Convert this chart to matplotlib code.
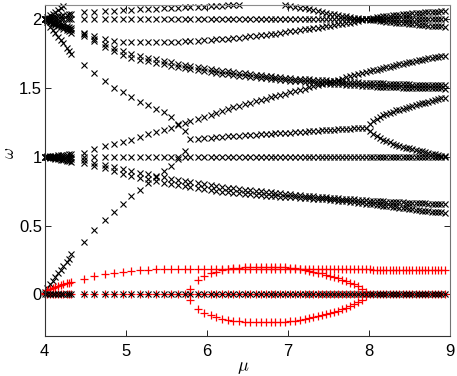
import numpy as np
import matplotlib
matplotlib.use('Agg')
import matplotlib.pyplot as plt

plt.rcParams['font.family'] = ['Liberation Sans', 'DejaVu Sans']
plt.rcParams['mathtext.fontset'] = 'cm'

N = None

# coarse mu grid (4.48 .. 8.94)
mu = [4.48, 4.61, 4.74, 4.86, 4.97, 5.07, 5.18, 5.28, 5.38, 5.47,
      5.56, 5.65, 5.73, 5.80, 5.89, 5.97, 6.05, 6.12, 6.19, 6.26,
      6.33, 6.40, 6.47, 6.54, 6.61, 6.67, 6.73, 6.79, 6.85, 6.91,
      6.97, 7.03, 7.09, 7.15, 7.21, 7.27, 7.32, 7.37, 7.42, 7.47,
      7.52, 7.57, 7.62, 7.67, 7.72, 7.77, 7.82, 7.87, 7.92, 7.97,
      8.02, 8.06, 8.10, 8.14, 8.18, 8.22, 8.26, 8.30, 8.34, 8.38,
      8.42, 8.46, 8.50, 8.54, 8.58, 8.62, 8.66, 8.70, 8.74, 8.78,
      8.82, 8.86, 8.90, 8.94]

# dense mu grid near mu = 4
mu_d = [4.00, 4.03, 4.07, 4.10, 4.13, 4.17, 4.20, 4.23, 4.27, 4.30, 4.33]

# ---- black branches (omega), coarse grid ----
w_two = [2.0, 2.0, 2.0, 2.0, 2.0, 2.0, 2.0, 2.0, 2.0, 2.0,
         2.0, 2.0, 2.0, 2.0, 2.0, 2.0, 2.0, 2.0, 2.0, 2.0,
         2.0, 2.0, 2.0, 2.0, 2.0, 2.0, 2.0, 2.0, 2.0, 2.0,
         2.0, 2.0, 2.0, 2.0, 2.0, 2.0, 2.0, 2.0, 2.0, 2.0,
         2.0, 2.0, 2.0, 2.0, 2.0, 2.0, 2.0, 2.0, 2.0, 2.0,
         2.0, 2.0, 2.0, 2.0, 2.0, 2.0, 2.0, 2.0, 2.0, 2.0,
         2.0, 2.0, 2.0, 2.0, 2.0, 2.0, 2.0, 2.0, 2.0, 2.0,
         2.0, 2.0, 2.0, 2.0]
w_top_up = [2.050, 2.054, 2.058, 2.062, 2.065, 2.068, 2.071, 2.073, 2.076, 2.078,
            2.081, 2.083, 2.085, 2.087, 2.089, 2.091, 2.094, 2.096, 2.098, 2.100,
            2.102, 2.104] + [N] * 52
w_top_dn = [N] * 30 + [
    2.105, 2.098, 2.091, 2.084, 2.077, 2.070, 2.064, 2.058, 2.052, 2.046,
    2.040, 2.035, 2.030, 2.025, 2.020, 2.015, 2.010, 2.006, 2.002, 1.998,
    1.995, 1.992, 1.990, 1.987, 1.985, 1.982, 1.980, 1.977, 1.975, 1.972,
    1.970, 1.968, 1.965, 1.963, 1.961, 1.959, 1.957, 1.955, 1.953, 1.951,
    1.950, 1.948, 1.947, 1.946]
w_rise2 = [1.900, 1.875, 1.855, 1.840, 1.832, 1.830, 1.830, 1.830, 1.830, 1.832,
           1.834, 1.836, 1.838, 1.840, 1.843, 1.846, 1.849, 1.852, 1.855, 1.858,
           1.862, 1.866, 1.870, 1.874, 1.878, 1.882, 1.886, 1.890, 1.895, 1.900,
           1.905, 1.910, 1.915, 1.920, 1.925, 1.930, 1.934, 1.938, 1.943, 1.947,
           1.952, 1.956, 1.961, 1.965, 1.970, 1.975, 1.980, 1.986, 1.992, 1.998,
           2.004, 2.008, 2.012, 2.016, 2.019, 2.022, 2.025, 2.028, 2.031, 2.033,
           2.036, 2.038, 2.040, 2.042, 2.044, 2.046, 2.047, 2.049, 2.050, 2.052,
           2.053, 2.054, 2.055, 2.056]
w_band_hi = [1.890, 1.855, 1.820, 1.790, 1.765, 1.748, 1.733, 1.720, 1.708, 1.697,
             1.687, 1.677, 1.668, 1.660, 1.652, 1.645, 1.638, 1.632, 1.626, 1.620,
             1.615, 1.610, 1.605, 1.600, 1.595, 1.591, 1.587, 1.583, 1.580, 1.577,
             1.574, 1.571, 1.568, 1.566, 1.564, 1.562, 1.560, 1.558, 1.556, 1.554,
             1.552, 1.550, 1.548, 1.546, 1.545, 1.543, 1.541, 1.540, 1.538, 1.537,
             1.536, 1.535, 1.534, 1.533, 1.532, 1.531, 1.530, 1.529, 1.528, 1.527,
             1.526, 1.526, 1.525, 1.524, 1.524, 1.523, 1.523, 1.522, 1.522, 1.521,
             1.521, 1.520, 1.520, 1.520]
w_band_lo = [1.880, 1.840, 1.800, 1.765, 1.738, 1.720, 1.705, 1.692, 1.680, 1.670,
             1.660, 1.651, 1.643, 1.636, 1.628, 1.621, 1.615, 1.609, 1.604, 1.599,
             1.594, 1.589, 1.585, 1.581, 1.577, 1.573, 1.569, 1.566, 1.562, 1.559,
             1.556, 1.553, 1.550, 1.547, 1.545, 1.542, 1.540, 1.538, 1.535, 1.533,
             1.531, 1.529, 1.527, 1.525, 1.523, 1.521, 1.520, 1.518, 1.516, 1.515,
             1.513, 1.512, 1.510, 1.509, 1.508, 1.507, 1.506, 1.505, 1.504, 1.503,
             1.502, 1.501, 1.500, 1.500, 1.499, 1.499, 1.498, 1.498, 1.497, 1.497,
             1.496, 1.496, 1.496, 1.495]
w_fall = [1.665, 1.607, 1.550, 1.500, 1.467, 1.435, 1.400, 1.375, 1.350, 1.325,
          1.292, 1.240, 1.190, 1.127, 1.130, 1.133, 1.137, 1.140, 1.143, 1.147,
          1.150, 1.152, 1.155, 1.158, 1.160, 1.163, 1.165, 1.167, 1.170, 1.172,
          1.174, 1.176, 1.178, 1.180, 1.183, 1.185, 1.187, 1.189, 1.191, 1.193,
          1.195, 1.197, 1.199, 1.201, 1.203, 1.205, 1.207, 1.208, 1.210, 1.212,
          1.240, 1.260, 1.275, 1.288, 1.300, 1.310, 1.320, 1.328, 1.336, 1.343,
          1.350, 1.357, 1.363, 1.369, 1.375, 1.381, 1.387, 1.393, 1.399, 1.405,
          1.411, 1.417, 1.423, 1.430]
w_fall_lo = [N] * 50 + [
    1.185, 1.165, 1.150, 1.137, 1.125, 1.114, 1.104, 1.095, 1.087, 1.080,
    1.073, 1.066, 1.060, 1.054, 1.048, 1.043, 1.038, 1.033, 1.028, 1.023,
    1.018, 1.013, 1.008, 1.004]
w_rise1 = [1.025, 1.055, 1.078, 1.093, 1.105, 1.125, 1.145, 1.163, 1.180, 1.197,
           1.212, 1.232, 1.248, 1.260, 1.272, 1.286, 1.300, 1.315, 1.330, 1.345,
           1.358, 1.370, 1.381, 1.392, 1.402, 1.412, 1.422, 1.431, 1.440, 1.450,
           1.459, 1.468, 1.477, 1.486, 1.495, 1.504, 1.512, 1.520, 1.528, 1.536,
           1.544, 1.552, 1.560, 1.568, 1.576, 1.584, 1.592, 1.600, 1.607, 1.614,
           1.621, 1.627, 1.633, 1.638, 1.644, 1.650, 1.655, 1.660, 1.666, 1.671,
           1.676, 1.681, 1.686, 1.691, 1.696, 1.700, 1.705, 1.710, 1.714, 1.718,
           1.722, 1.726, 1.730, 1.734]
w_one = [1.0, 1.0, 1.0, 1.0, 1.0, 1.0, 1.0, 1.0, 1.0, 1.0,
         1.0, 1.0, 1.0, 1.0, 1.0, 1.0, 1.0, 1.0, 1.0, 1.0,
         1.0, 1.0, 1.0, 1.0, 1.0, 1.0, 1.0, 1.0, 1.0, 1.0,
         1.0, 1.0, 1.0, 1.0, 1.0, 1.0, 1.0, 1.0, 1.0, 1.0,
         1.0, 1.0, 1.0, 1.0, 1.0, 1.0, 1.0, 1.0, 1.0, 1.0,
         1.0, 1.0, 1.0, 1.0, 1.0, 1.0, 1.0, 1.0, 1.0, 1.0,
         1.0, 1.0, 1.0, 1.0, 1.0, 1.0, 1.0, 1.0, 1.0, 1.0,
         1.0, 1.0, 1.0, 1.0]
w_rise0 = [0.380, 0.465, 0.540, 0.600, 0.655, 0.715, 0.760, 0.810, 0.855, 0.895,
           0.935, 0.980, 1.040] + [N] * 61
w_low_hi = [0.975, 0.958, 0.942, 0.926, 0.910, 0.897, 0.884, 0.872, 0.861, 0.851,
            0.841, 0.832, 0.824, 0.817, 0.809, 0.801, 0.794, 0.787, 0.781, 0.776,
            0.771, 0.766, 0.761, 0.757, 0.753, 0.749, 0.745, 0.741, 0.737, 0.733,
            0.730, 0.727, 0.724, 0.721, 0.718, 0.715, 0.712, 0.710, 0.707, 0.705,
            0.703, 0.700, 0.698, 0.696, 0.694, 0.692, 0.690, 0.688, 0.686, 0.684,
            0.682, 0.680, 0.679, 0.677, 0.676, 0.674, 0.673, 0.672, 0.670, 0.669,
            0.668, 0.667, 0.666, 0.665, 0.664, 0.663, 0.662, 0.661, 0.660, 0.659,
            0.658, 0.657, 0.656, 0.655]
w_low_lo = [0.955, 0.935, 0.915, 0.895, 0.877, 0.862, 0.848, 0.835, 0.823, 0.812,
            0.802, 0.793, 0.785, 0.778, 0.771, 0.764, 0.758, 0.752, 0.747, 0.742,
            0.738, 0.734, 0.730, 0.727, 0.724, 0.721, 0.718, 0.716, 0.713, 0.711,
            0.708, 0.706, 0.704, 0.702, 0.700, 0.698, 0.696, 0.694, 0.692, 0.690,
            0.687, 0.684, 0.681, 0.678, 0.675, 0.672, 0.669, 0.666, 0.663, 0.660,
            0.657, 0.654, 0.651, 0.648, 0.645, 0.642, 0.639, 0.636, 0.633, 0.630,
            0.627, 0.624, 0.621, 0.618, 0.615, 0.612, 0.609, 0.606, 0.603, 0.600,
            0.598, 0.596, 0.595, 0.594]
w_zero = [0.0, 0.0, 0.0, 0.0, 0.0, 0.0, 0.0, 0.0, 0.0, 0.0,
          0.0, 0.0, 0.0, 0.0, 0.0, 0.0, 0.0, 0.0, 0.0, 0.0,
          0.0, 0.0, 0.0, 0.0, 0.0, 0.0, 0.0, 0.0, 0.0, 0.0,
          0.0, 0.0, 0.0, 0.0, 0.0, 0.0, 0.0, 0.0, 0.0, 0.0,
          0.0, 0.0, 0.0, 0.0, 0.0, 0.0, 0.0, 0.0, 0.0, 0.0,
          0.0, 0.0, 0.0, 0.0, 0.0, 0.0, 0.0, 0.0, 0.0, 0.0,
          0.0, 0.0, 0.0, 0.0, 0.0, 0.0, 0.0, 0.0, 0.0, 0.0,
          0.0, 0.0, 0.0, 0.0]

# ---- black branches, dense grid ----
d_steep = [2.000, 2.012, 2.028, 2.040, 2.052, 2.068, 2.080, 2.092, N, N, N]
d_two = [2.0, 2.0, 2.0, 2.0, 2.0, 2.0, 2.0, 2.0, 2.0, 2.0, 2.0]
d_top = [2.000, 2.004, 2.008, 2.012, 2.016, 2.020, 2.024, 2.028, 2.032, 2.036, 2.040]
d_r2 = [2.000, 1.994, 1.987, 1.981, 1.975, 1.968, 1.962, 1.955, 1.948, 1.942, 1.935]
d_bh = [2.000, 1.992, 1.983, 1.975, 1.967, 1.958, 1.950, 1.942, 1.933, 1.925, 1.917]
d_bl = [2.000, 1.990, 1.980, 1.970, 1.960, 1.950, 1.940, 1.930, 1.920, 1.910, 1.900]
d_fall = [2.000, 1.977, 1.946, 1.923, 1.900, 1.869, 1.846, 1.823, 1.792, 1.769, 1.745]
d_r1 = [1.000, 1.002, 1.004, 1.006, 1.008, 1.010, 1.012, 1.014, 1.016, 1.018, 1.020]
d_one = [1.0, 1.0, 1.0, 1.0, 1.0, 1.0, 1.0, 1.0, 1.0, 1.0, 1.0]
d_lh = [1.000, 0.998, 0.996, 0.995, 0.993, 0.991, 0.989, 0.987, 0.986, 0.984, 0.982]
d_ll = [1.000, 0.996, 0.993, 0.990, 0.986, 0.983, 0.979, 0.976, 0.972, 0.969, 0.965]
d_r0 = [0.020, 0.045, 0.077, 0.100, 0.125, 0.157, 0.180, 0.205, 0.237, 0.260, 0.290]
d_zero = [0.0, 0.0, 0.0, 0.0, 0.0, 0.0, 0.0, 0.0, 0.0, 0.0, 0.0]

# ---- red branches (growth rates) ----
g_main = [0.114, 0.133, 0.150, 0.158, 0.165, 0.171, 0.175, 0.178, 0.181, 0.183,
          0.185, 0.186, 0.187, 0.187, 0.187, 0.187, 0.187, 0.187, 0.187, 0.187,
          0.187, 0.187, 0.187, 0.187, 0.187, 0.187, 0.187, 0.187, 0.187, 0.187,
          0.186, 0.186, 0.186, 0.186, 0.185, 0.185, 0.185, 0.184, 0.184, 0.184,
          0.183, 0.183, 0.183, 0.182, 0.182, 0.182, 0.182, 0.181, 0.181, 0.181,
          0.181, 0.180, 0.180, 0.180, 0.180, 0.180, 0.179, 0.179, 0.179, 0.179,
          0.179, 0.179, 0.179, 0.178, 0.178, 0.178, 0.178, 0.178, 0.178, 0.177,
          0.177, 0.177, 0.177, 0.177]
g_loop_up = [N] * 13 + [
    0.040, 0.105, 0.132, 0.152, 0.166, 0.178, 0.186,
    0.191, 0.195, 0.198, 0.200, 0.201, 0.202, 0.202, 0.201, 0.200, 0.199,
    0.197, 0.194, 0.190, 0.185, 0.179, 0.172, 0.166, 0.159, 0.152, 0.144,
    0.136, 0.127, 0.118, 0.108, 0.097, 0.085, 0.072, 0.058, 0.041, 0.015] + [N] * 24
g_loop_dn = [N] * 13 + [
    -0.040, -0.105, -0.132, -0.152, -0.166, -0.178, -0.186,
    -0.191, -0.195, -0.198, -0.200, -0.201, -0.202, -0.202, -0.201, -0.200, -0.199,
    -0.197, -0.194, -0.190, -0.185, -0.179, -0.172, -0.166, -0.159, -0.152, -0.144,
    -0.136, -0.127, -0.118, -0.108, -0.097, -0.085, -0.072, -0.058, -0.041, -0.015] + [N] * 24
gd_main = [0.010, 0.030, 0.042, 0.050, 0.057, 0.064, 0.069, 0.074, 0.080, 0.085, 0.090]

black_coarse = [w_two, w_top_up, w_top_dn, w_rise2, w_band_hi, w_band_lo, w_fall,
                w_fall_lo, w_rise1, w_one, w_rise0, w_low_hi, w_low_lo]
black_dense = [d_steep, d_two, d_top, d_r2, d_bh, d_bl, d_fall,
               d_r1, d_one, d_lh, d_ll, d_r0]
red_coarse = [g_main, g_loop_up, g_loop_dn, w_zero]
red_dense = [gd_main, d_zero]

fig = plt.figure(figsize=(4.57, 3.76), dpi=100)
ax = fig.add_axes([0.0978, 0.1072, 0.8858, 0.8787])

kx = dict(ls='none', marker='x', color='k', ms=4, mew=0.8, clip_on=False)
rp = dict(ls='none', marker='+', color='red', ms=5.5, mew=0.9, clip_on=False)

for w in black_coarse:
    ax.plot(mu, np.array(w, dtype=float), **kx)
for w in black_dense:
    ax.plot(mu_d, np.array(w, dtype=float), **kx)
for w in red_coarse:
    ax.plot(mu, np.array(w, dtype=float), **rp)
for w in red_dense:
    ax.plot(mu_d, np.array(w, dtype=float), **rp)
# black zero row drawn over the red one
ax.plot(mu, np.array(w_zero, dtype=float), **kx)
ax.plot(mu_d, np.array(d_zero, dtype=float), **kx)

ax.set_xlim(4, 9)
ax.set_ylim(-0.3, 2.1)
ax.set_xticks([4, 5, 6, 7, 8, 9])
ax.set_yticks([0, 0.5, 1, 1.5, 2])
ax.set_yticklabels(['0', '0.5', '1', '1.5', '2'])
ax.tick_params(direction='in', top=True, right=True, length=4, width=0.6,
               labelsize=12, colors='k')
ax.tick_params(axis='x', pad=6)
ax.tick_params(axis='y', pad=2)
for s in ax.spines.values():
    s.set_linewidth(0.8)
    s.set_color('0.2')
ax.spines['top'].set_color('0.55')
ax.spines['right'].set_color('0.45')

ax.set_xlabel(r'$\mu$', fontsize=13)
ax.xaxis.set_label_coords(0.49, -0.07)
ax.set_ylabel(r'$\omega$', fontsize=12)
ax.yaxis.set_label_coords(-0.068, 0.553)

fig.savefig('out.png', dpi=100)
